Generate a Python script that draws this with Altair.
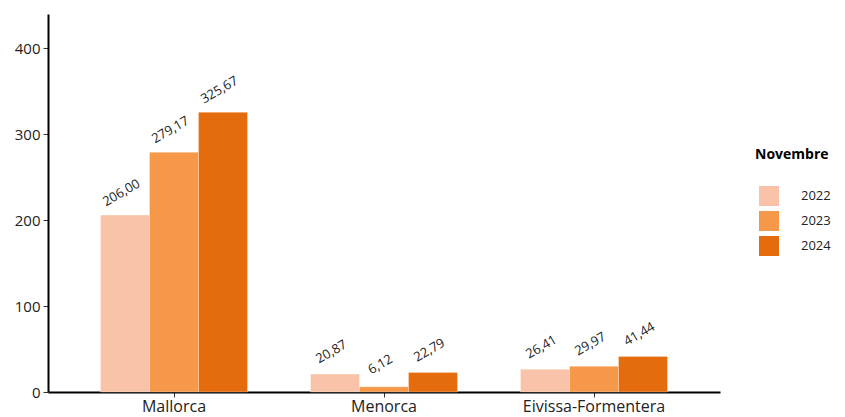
import altair as alt
import pandas as pd

regions = ["Mallorca", "Menorca", "Eivissa-Formentera"]
years = ["2022", "2023", "2024"]
values = {
    "2022": [206.00, 20.87, 26.41],
    "2023": [279.17, 6.12, 29.97],
    "2024": [325.67, 22.79, 41.44],
}
colors = ["#f8c3a8", "#f5984a", "#e46c0d"]

rows = []
for y in years:
    for r, v in zip(regions, values[y]):
        rows.append({"region": r, "year": y, "value": v,
                     "label": f"{v:.2f}".replace(".", ",")})
df = pd.DataFrame(rows)

font = "Open Sans"

x = alt.X("region:N", sort=regions, title=None,
          scale=alt.Scale(paddingInner=0.3, paddingOuter=0.25),
          axis=alt.Axis(labelAngle=0, labelFontSize=16, labelColor="#222",
                        domainColor="black", domainWidth=2, tickColor="#333",
                        tickSize=5, labelPadding=1))
y = alt.Y("value:Q", title=None,
          scale=alt.Scale(domain=[0, 440], nice=False),
          axis=alt.Axis(values=[0, 100, 200, 300, 400], labelFontSize=15,
                        labelColor="#222", grid=False, domainColor="black",
                        domainWidth=2, tickColor="#333", tickSize=5,
                        labelPadding=3))

base = alt.Chart(df).encode(
    x=x,
    xOffset=alt.XOffset("year:N", sort=years),
)

bars = base.mark_bar(stroke="white", strokeWidth=0.5, strokeOpacity=0.6).encode(
    y=y,
    color=alt.Color("year:N", sort=years,
                    scale=alt.Scale(domain=years, range=colors),
                    legend=alt.Legend(title="Novembre", orient="none",
                                      legendX=707, legendY=134, padding=0,
                                      titleFontSize=14, titleFontWeight="bold",
                                      titleColor="black", titlePadding=24,
                                      labelFontSize=13, labelColor="#222",
                                      symbolType="square", symbolSize=400,
                                      symbolStrokeWidth=0, labelOffset=22,
                                      symbolOffset=4, rowPadding=5)),
)

labels = base.mark_text(angle=330, align="center", baseline="bottom",
                        dx=8, dy=-14, fontSize=13, color="#222", font=font).encode(
    y=alt.Y("value:Q"),
    text="label:N",
)

chart = (bars + labels).properties(
    width=672, height=378,
    autosize=alt.AutoSizeParams(type="none"),
    padding={"left": 40, "top": 6, "right": 117, "bottom": 25},
).configure(font=font).configure_view(stroke=None).configure_axis(
    labelFont=font).configure_legend(labelFont=font, titleFont=font)

chart.save("out.html", embed_options={"renderer": "svg", "actions": False})
